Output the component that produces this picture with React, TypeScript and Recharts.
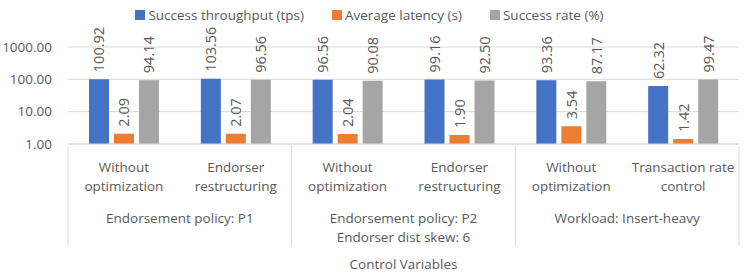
import { BarChart, Bar, XAxis, YAxis, CartesianGrid, Legend, LabelList } from "recharts";

const CATEGORIES = [
  "Without\noptimization",
  "Endorser\nrestructuring",
  "Without\noptimization",
  "Endorser\nrestructuring",
  "Without\noptimization",
  "Transaction rate\ncontrol",
];
const GROUP_OF = [0, 0, 1, 1, 2, 2];
const GROUPS = [
  "Endorsement policy: P1",
  "Endorsement policy: P2\nEndorser dist skew: 6",
  "Workload: Insert-heavy",
];
const THROUGHPUT = [100.92, 103.56, 96.56, 99.16, 93.36, 62.32];
const LATENCY = [2.09, 2.07, 2.04, 1.9, 3.54, 1.42];
const SUCCESS_RATE = [94.14, 96.56, 90.08, 92.5, 87.17, 99.47];
const Y_TICKS = [1, 10, 100, 1000];

const SERIES = [
  { key: "throughput", name: "Success throughput (tps)", color: "#4472C4" },
  { key: "latency", name: "Average latency (s)", color: "#ED7D31" },
  { key: "rate", name: "Success rate (%)", color: "#A5A5A5" },
];

const W = 747;
const H = 273;
const MARGIN = { top: 23, right: 8, left: 0, bottom: 0 };
const Y_W = 68;
const X_H = 129;
const PLOT_W = W - MARGIN.left - MARGIN.right - Y_W;
const FONT = "'Open Sans', sans-serif";
const TEXT = "#595959";
const GRID = "#D9D9D9";

const data = CATEGORIES.map((c, i) => ({
  key: String(i),
  throughput: THROUGHPUT[i],
  latency: LATENCY[i],
  rate: SUCCESS_RATE[i],
}));

function CategoryTick(props: any) {
  const { x, y, index } = props;
  const bw = PLOT_W / CATEGORIES.length;
  const g = GROUP_OF[index];
  const first = index === 0 || GROUP_OF[index - 1] !== g;
  const last = index === CATEGORIES.length - 1;
  const groupSize = GROUP_OF.filter((v) => v === g).length;
  const lines = CATEGORIES[index].split("\n");
  const gx = x - bw / 2 + (groupSize * bw) / 2;
  return (
    <g fontFamily={FONT} fontSize={13.5} fill={TEXT}>
      {lines.map((l, k) => (
        <text key={k} x={x} y={y + 21 + k * 19} textAnchor="middle" dominantBaseline="central">
          {l}
        </text>
      ))}
      {first && (
        <line x1={x - bw / 2} x2={x - bw / 2} y1={y} y2={y + 100} stroke={GRID} />
      )}
      {last && (
        <line x1={x + bw / 2} x2={x + bw / 2} y1={y} y2={y + 100} stroke={GRID} />
      )}
      {first &&
        GROUPS[g].split("\n").map((l, k) => (
          <text key={"g" + k} x={gx} y={y + 72 + k * 19} textAnchor="middle" dominantBaseline="central">
            {l}
          </text>
        ))}
    </g>
  );
}

function ValueLabel(props: any) {
  const { x, y, width, value } = props;
  const cx = x + width / 2;
  const ty = y - 7;
  return (
    <text
      x={cx}
      y={ty}
      transform={`rotate(-90, ${cx}, ${ty})`}
      textAnchor="start"
      dominantBaseline="central"
      fontFamily={FONT}
      fontSize={14.5}
      fill={TEXT}
    >
      {Number(value).toFixed(2)}
    </text>
  );
}

function LegendContent() {
  return (
    <div
      style={{
        display: "flex",
        justifyContent: "center",
        alignItems: "center",
        gap: 28,
        height: 24,
        fontFamily: FONT,
        fontSize: 13.5,
        color: TEXT,
      }}
    >
      {SERIES.map((s) => (
        <div key={s.key} style={{ display: "flex", alignItems: "center" }}>
          <span style={{ width: 10, height: 10, background: s.color, marginRight: 3 }} />
          <span>{s.name}</span>
        </div>
      ))}
    </div>
  );
}

export default function App() {
  return (
    <div style={{ position: "absolute", left: 0, top: 0 }}>
      <BarChart width={W} height={H} data={data} margin={MARGIN} barGap={5} barCategoryGap={21}>
        <CartesianGrid vertical={false} stroke={GRID} />
        <Legend
          verticalAlign="top"
          height={24}
          content={<LegendContent />}
          wrapperStyle={{ top: 3 }}
        />
        <XAxis
          dataKey="key"
          height={X_H}
          tickSize={0}
          tickLine={false}
          axisLine={{ stroke: GRID }}
          interval={0}
          tick={<CategoryTick />}
          label={{
            value: "Control Variables",
            position: "insideBottom",
            offset: 4,
            fill: TEXT,
            fontFamily: FONT,
            fontSize: 13.5,
          }}
        />
        <YAxis
          scale="log"
          domain={[1, 1000]}
          ticks={Y_TICKS}
          width={Y_W}
          tickSize={0}
          tickMargin={16}
          axisLine={false}
          tickLine={false}
          allowDataOverflow
          tickFormatter={(v: number) => v.toFixed(2)}
          tick={{ fill: TEXT, fontFamily: FONT, fontSize: 13.5 }}
        />
        {SERIES.map((s) => (
          <Bar key={s.key} dataKey={s.key} name={s.name} fill={s.color} isAnimationActive={false}>
            <LabelList dataKey={s.key} content={<ValueLabel />} />
          </Bar>
        ))}
      </BarChart>
    </div>
  );
}
